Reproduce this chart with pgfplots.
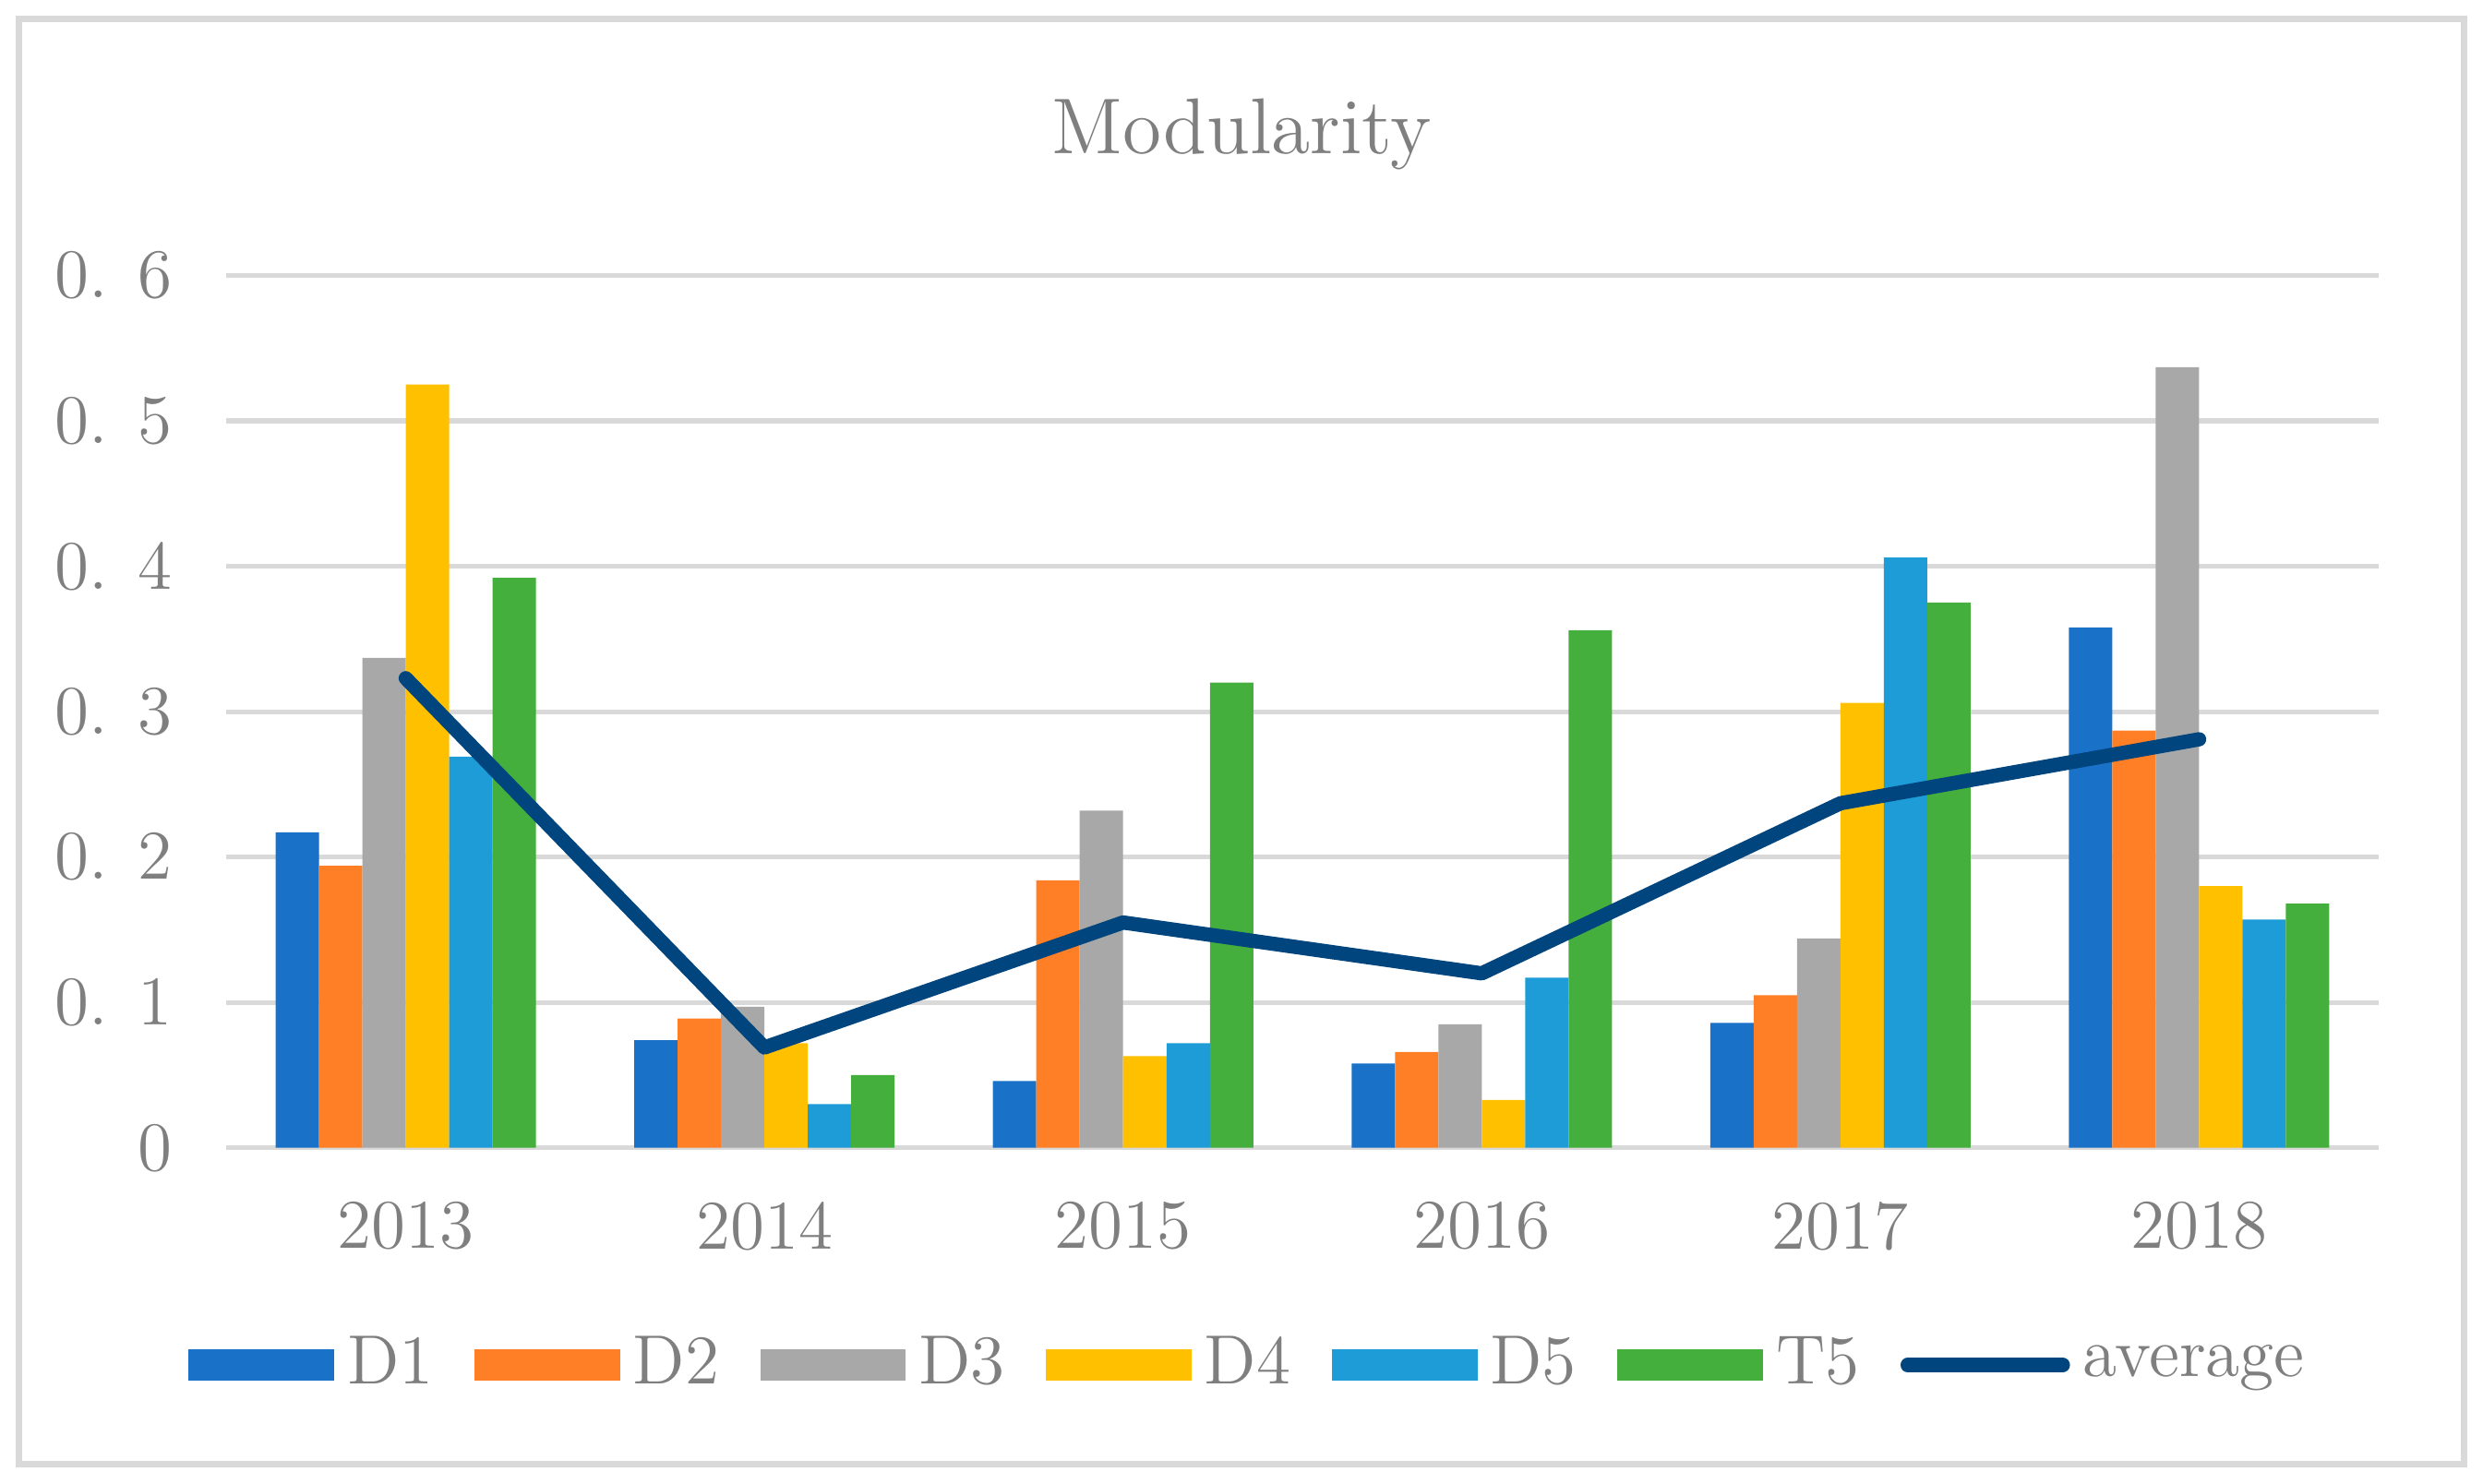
\documentclass[border=0pt]{standalone}
\usepackage{pgfplots}
\pgfplotsset{compat=1.18}
\definecolor{cD1}{HTML}{1A71C8}
\definecolor{cD2}{HTML}{FF7F27}
\definecolor{cD3}{HTML}{A8A8A8}
\definecolor{cD4}{HTML}{FFC000}
\definecolor{cD5}{HTML}{1E9CD8}
\definecolor{cT5}{HTML}{44AF3C}
\definecolor{cAvg}{HTML}{00457D}
\definecolor{cGrid}{HTML}{D9D9D9}
\definecolor{cText}{HTML}{7F7F7F}
\pgfplotsset{
  mybar/.style={ybar, bar width=0.121, fill=#1, draw=none,
    legend image code/.code={\fill[##1] (0pt,-2.5pt) rectangle (23pt,2.5pt);}},
  avgline/.style={sharp plot, cAvg, line width=2.25pt, line cap=round, line join=round, mark=none,
    legend image code/.code={\draw[##1] (0pt,0pt) -- (24.5pt,0pt);}},
}
\begin{document}
\begin{tikzpicture}
\path (-35.75pt,-53pt) rectangle (356.25pt,181.25pt);
\draw[cGrid, line width=1pt] (-32.75pt,-50pt) rectangle (353.25pt,178.25pt);
\begin{axis}[
  scale only axis, width=339.75pt, height=137.75pt,
  xmin=-0.5, xmax=5.5, ymin=0, ymax=0.6,
  xtick={0,1,2,3,4,5},
  xticklabels={2013,2014,2015,2016,2017,2018},
  ytick={0,0.1,0.2,0.3,0.4,0.5,0.6},
  yticklabels={0,0. 1,0. 2,0. 3,0. 4,0. 5,0. 6},
  axis line style={draw=none},
  major tick length=0pt,
  ymajorgrids, major grid style={cGrid, line width=0.75pt},
  tick label style={font=\fontsize{11}{13}\selectfont, text=cText},
  yticklabel style={xshift=-5pt},
  xticklabel style={yshift=-5pt},
  clip=false,
  legend columns=7,
  legend style={draw=none, at={(0.477,-0.249)}, anchor=center,
    font=\fontsize{11}{13}\selectfont, text=cText,
    /tikz/every even column/.append style={column sep=4.5pt}},
  legend cell align=left,
]
\addplot[mybar=cD1, bar shift=-0.3025] coordinates {(0,0.217) (1,0.074) (2,0.046) (3,0.058) (4,0.086) (5,0.358)};
\addlegendentry{D1}
\addplot[mybar=cD2, bar shift=-0.1815] coordinates {(0,0.194) (1,0.089) (2,0.184) (3,0.066) (4,0.105) (5,0.287)};
\addlegendentry{D2}
\addplot[mybar=cD3, bar shift=-0.0605] coordinates {(0,0.337) (1,0.097) (2,0.232) (3,0.085) (4,0.144) (5,0.537)};
\addlegendentry{D3}
\addplot[mybar=cD4, bar shift=0.0605] coordinates {(0,0.525) (1,0.072) (2,0.063) (3,0.033) (4,0.306) (5,0.180)};
\addlegendentry{D4}
\addplot[mybar=cD5, bar shift=0.1815] coordinates {(0,0.269) (1,0.030) (2,0.072) (3,0.117) (4,0.406) (5,0.157)};
\addlegendentry{D5}
\addplot[mybar=cT5, bar shift=0.3025] coordinates {(0,0.392) (1,0.050) (2,0.320) (3,0.356) (4,0.375) (5,0.168)};
\addlegendentry{T5}
\addplot[avgline] coordinates {(0,0.323) (1,0.069) (2,0.155) (3,0.120) (4,0.237) (5,0.281)};
\addlegendentry{average}
\end{axis}
\node[text=cText, font=\fontsize{12.5}{15}\selectfont] at (160.25pt,160pt) {Modularity};
\end{tikzpicture}
\end{document}
